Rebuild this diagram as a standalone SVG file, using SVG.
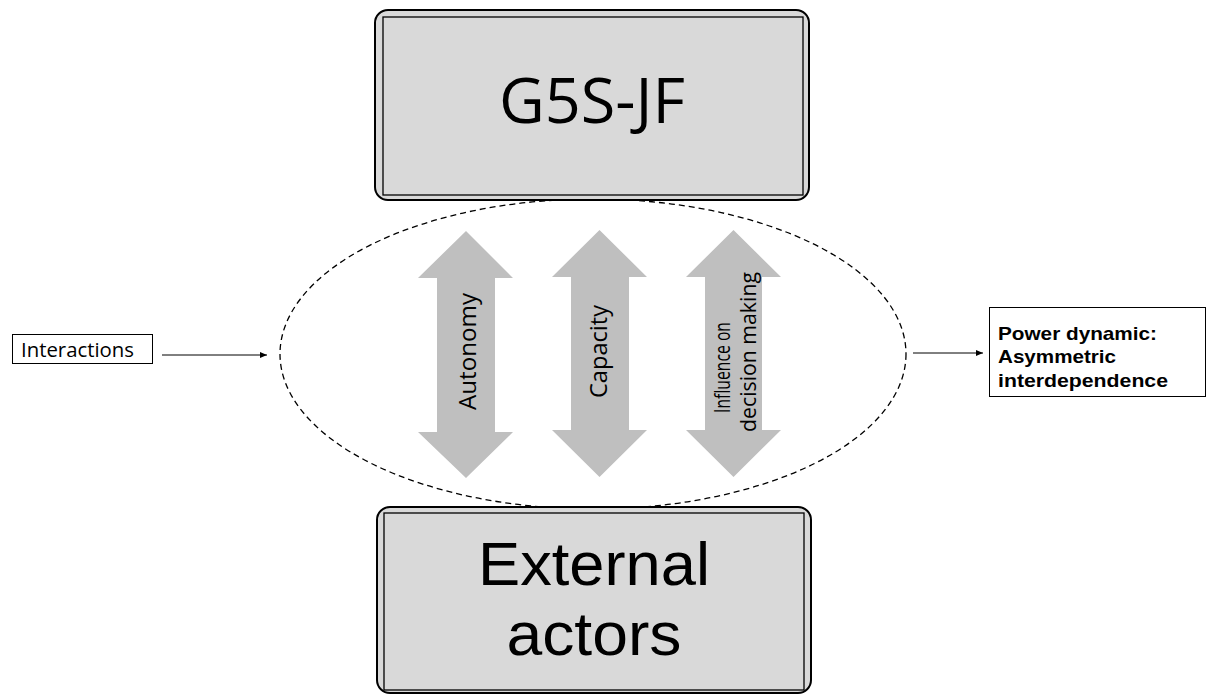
<svg xmlns="http://www.w3.org/2000/svg" width="1207" height="695" viewBox="0 0 1207 695">
<defs>
<marker id="ah" markerWidth="8" markerHeight="8" refX="7" refY="4" orient="auto" markerUnits="userSpaceOnUse">
<path d="M0,1 L7,4 L0,7 Z" fill="#000"/>
</marker>
<style>
.outer{fill:#d9d9d9;stroke:#000;stroke-width:2}
.inner{fill:none;stroke:#000;stroke-width:1.3}
.dbl{fill:#bfbfbf;stroke:none}
.t{font-family:"Open Sans","Liberation Sans",sans-serif;fill:#000}
.l{font-family:"Liberation Sans","Open Sans",sans-serif;fill:#000}
.conn{stroke:#000;stroke-width:1;fill:none}
.box{fill:#fff;stroke:#000;stroke-width:1}
</style>
</defs>
<rect width="1207" height="695" fill="#fff"/>
<g id="zone">
<ellipse cx="593" cy="354" rx="313" ry="155" fill="none" stroke="#000" stroke-width="1.3" stroke-dasharray="6 4"/>
</g>
<g id="g5s">
<rect class="outer" x="375" y="10" width="434" height="190" rx="13"/>
<rect class="inner" x="383" y="17" width="420" height="178"/>
<text class="t" x="592" y="123" font-size="63" text-anchor="middle">G5S-JF</text>
</g>
<g id="external">
<rect class="outer" x="377" y="507" width="434" height="186" rx="13"/>
<rect class="inner" x="384" y="513" width="420" height="177"/>
<text class="l" x="594" y="585" font-size="62" text-anchor="middle" textLength="232" lengthAdjust="spacingAndGlyphs">External</text>
<text class="l" x="594" y="655" font-size="62" text-anchor="middle" textLength="175" lengthAdjust="spacingAndGlyphs">actors</text>
</g>
<g id="autonomy">
<polygon class="dbl" points="466,231 513,278 495,278 495,432 513,432 466,478 418,432 437,432 437,278 418,278"/>
<text class="t" transform="translate(476,351.5) rotate(-90)" font-size="24" text-anchor="middle" textLength="117" lengthAdjust="spacingAndGlyphs">Autonomy</text>
</g>
<g id="capacity">
<polygon class="dbl" points="599.5,230 647,277 629,277 629,430 647,430 599.5,477 552,430 571,430 571,277 552,277"/>
<text class="t" transform="translate(607,351.5) rotate(-90)" font-size="24" text-anchor="middle" textLength="93" lengthAdjust="spacingAndGlyphs">Capacity</text>
</g>
<g id="influence">
<polygon class="dbl" points="733.5,230 781,277 762,277 762,430 781,430 733.5,477 686,430 705,430 705,277 686,277"/>
<text class="t" transform="translate(730,413) rotate(-90)" font-size="21" textLength="91" lengthAdjust="spacingAndGlyphs">Influence on</text>
<text class="t" transform="translate(756,432) rotate(-90)" font-size="21" textLength="160" lengthAdjust="spacingAndGlyphs">decision making</text>
</g>
<g id="interactions">
<rect class="box" x="12.5" y="334.5" width="140" height="29"/>
<text class="t" x="21" y="357" font-size="20" textLength="113" lengthAdjust="spacingAndGlyphs">Interactions</text>
</g>
<g id="power">
<rect class="box" x="989.5" y="307.5" width="216" height="89"/>
<text class="l" x="998" y="340" font-size="19" font-weight="bold" textLength="159" lengthAdjust="spacingAndGlyphs">Power dynamic:</text>
<text class="l" x="998" y="363" font-size="19" font-weight="bold" textLength="118" lengthAdjust="spacingAndGlyphs">Asymmetric</text>
<text class="l" x="998" y="387" font-size="19" font-weight="bold" textLength="170" lengthAdjust="spacingAndGlyphs">interdependence</text>
</g>
<g id="connectors">
<line class="conn" x1="162" y1="355" x2="267" y2="355" marker-end="url(#ah)"/>
<line class="conn" x1="913" y1="353" x2="983" y2="353" marker-end="url(#ah)"/>
</g>
</svg>
